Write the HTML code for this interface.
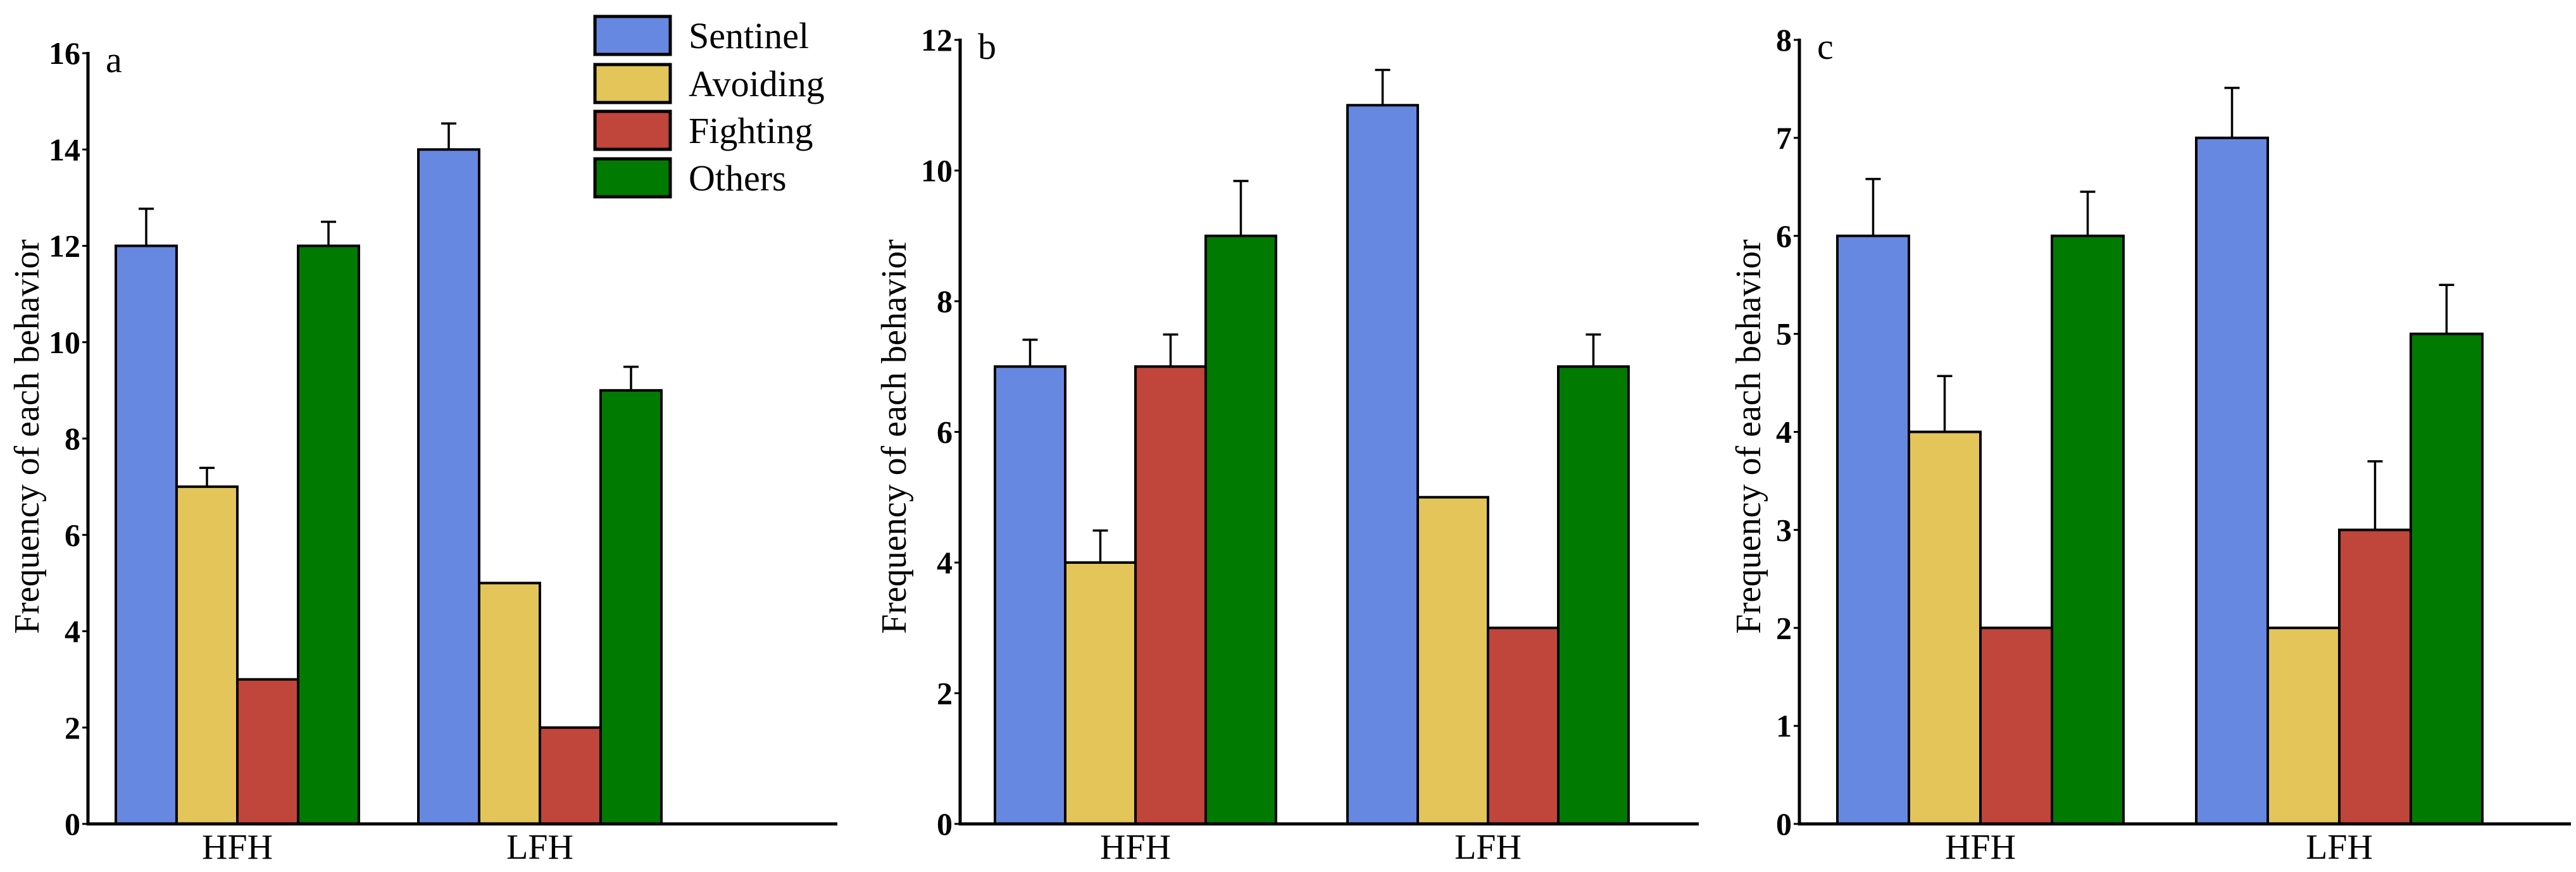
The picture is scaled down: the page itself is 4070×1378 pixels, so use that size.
<!DOCTYPE html>
<html><head><meta charset="utf-8"><style>
html,body{margin:0;padding:0;background:#fff;}
svg{display:block;}
svg text{font-family:"Liberation Serif","Times New Roman",serif !important;fill:#000;}
</style></head><body>
<svg id="chart" width="4070" height="1378" viewBox="0 0 4070 1378" xmlns="http://www.w3.org/2000/svg">
<g id="legend"></g>
</svg>
<script>
const categories = ["HFH", "LFH"];
const seriesNames = ["Sentinel", "Avoiding", "Fighting", "Others"];
const seriesColors = ["#6688e0", "#e3c55a", "#c0453a", "#007a00"];
// panel a
const aValues = [[12, 7, 3, 12], [14, 5, 2, 9]];
const aErrors = [[0.77, 0.39, 0, 0.5], [0.54, 0, 0, 0.49]];
const aTicks = [0, 2, 4, 6, 8, 10, 12, 14, 16];
// panel b
const bValues = [[7, 4, 7, 9], [11, 5, 3, 7]];
const bErrors = [[0.41, 0.49, 0.49, 0.84], [0.54, 0, 0, 0.49]];
const bTicks = [0, 2, 4, 6, 8, 10, 12];
// panel c
const cValues = [[6, 4, 2, 6], [7, 2, 3, 5]];
const cErrors = [[0.58, 0.57, 0, 0.45], [0.51, 0, 0.7, 0.5]];
const cTicks = [0, 1, 2, 3, 4, 5, 6, 7, 8];

const NS = "http://www.w3.org/2000/svg";
const svg = document.getElementById("chart");
const SERIF = "Liberation Serif, serif";
function mk(tag, attrs, parent) {
  const e = document.createElementNS(NS, tag);
  for (const k in attrs) e.setAttribute(k, attrs[k]);
  if (tag === "text") e.setAttribute("font-family", SERIF);
  (parent || svg).appendChild(e);
  return e;
}
const baseY = 1302;
function panel(id, label, values, errors, ticks, ax, axEnd, c0, spacing, bw, titleX, topPx) {
  const g = mk("g", {});
  
  
  const maxV = ticks[ticks.length - 1];
  const y = v => baseY - v / maxV * (baseY - topPx);
  categories.forEach((cat, ci) => {
    const center = c0 + ci * spacing;
    const start = center - 2 * bw;
    values[ci].forEach((v, si) => {
      const x = start + si * bw;
      const r = mk("rect", {x: x, y: y(v), width: bw, height: baseY - y(v), fill: seriesColors[si], stroke: "#000", "stroke-width": 4}, g);
      
      
      const e = errors[ci][si];
      if (e > 0) {
        const xm = x + bw / 2;
        const eg = mk("g", {stroke: "#000", "stroke-width": 3.5}, g);
        
        
        mk("line", {x1: xm, y1: y(v), x2: xm, y2: y(v + e)}, eg);
        mk("line", {x1: xm - 12, y1: y(v + e), x2: xm + 12, y2: y(v + e)}, eg);
      }
    });
    const t = mk("text", {x: center, y: 1357, "font-size": 56, "text-anchor": "middle"}, g);
    t.textContent = cat;
    
    
  });
  const axg = mk("g", {stroke: "#000", "stroke-width": 5}, g);
  
  
  mk("line", {x1: ax, y1: topPx - 2, x2: ax, y2: baseY + 2}, axg);
  mk("line", {x1: ax - 2, y1: baseY, x2: axEnd, y2: baseY}, axg);
  ticks.forEach(tv => {
    mk("line", {x1: ax - 9, y1: y(tv), x2: ax, y2: y(tv), "stroke-width": 3}, axg);
    const t = mk("text", {x: ax - 12, y: y(tv) + 17, "font-size": 50, "font-weight": "bold", "text-anchor": "end"}, g);
    t.textContent = tv;
    
    
  });
  const tt = mk("text", {x: 0, y: 0, "font-size": 56, "text-anchor": "middle", transform: "translate(" + (titleX + 19) + ",690) rotate(-90)"}, g);
  tt.textContent = "Frequency of each behavior";
  
  
  const pl = mk("text", {x: ax + 28, y: topPx + 30, "font-size": 58}, g);
  pl.textContent = label;
  
  
}
panel("a", "a", aValues, aErrors, aTicks, 139, 1323, 375, 478, 96, 42, 84);
panel("b", "b", bValues, bErrors, bTicks, 1517, 2684, 1794, 557, 111, 1412, 63);
panel("c", "c", cValues, cErrors, cTicks, 2843, 4062, 3129, 567, 113, 2762, 63);

const lg = document.getElementById("legend");
const legTops = [26, 102, 176, 251];
seriesNames.forEach((n, i) => {
  const eg = mk("g", {}, lg);
  
  
  mk("rect", {x: 940, y: legTops[i], width: 119, height: 60, fill: seriesColors[i], stroke: "#000", "stroke-width": 5}, eg);
  const t = mk("text", {x: 1088, y: legTops[i] + 50, "font-size": 58}, eg);
  t.textContent = n;
});
</script>
</body></html>
